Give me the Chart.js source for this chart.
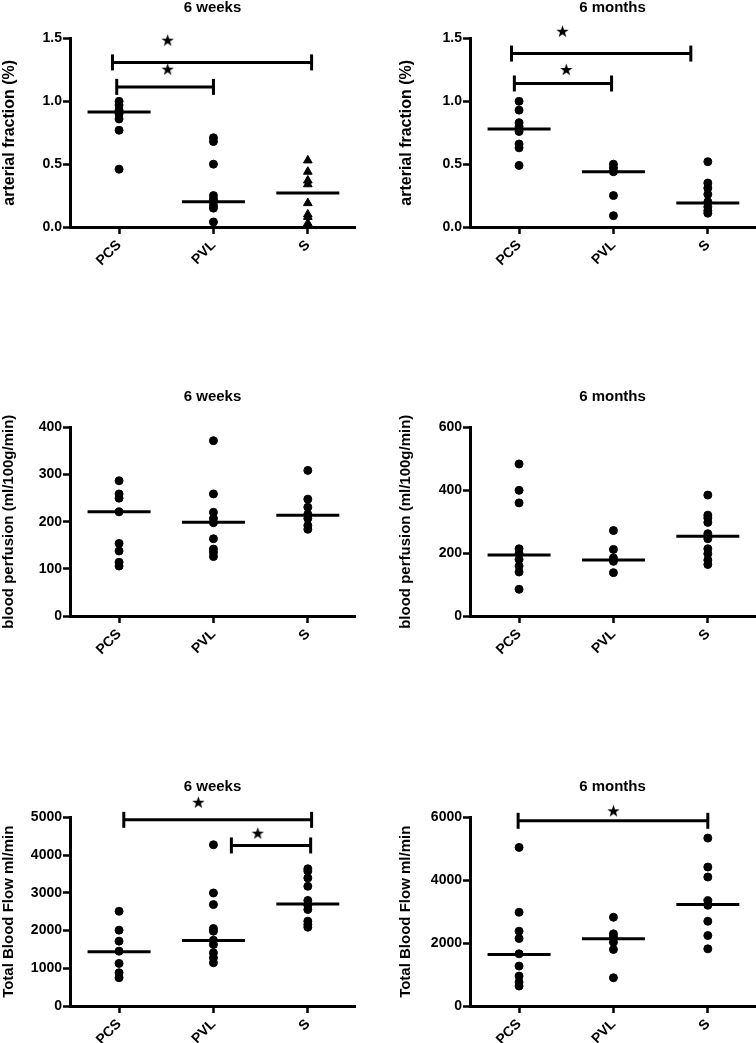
<!DOCTYPE html>
<html>
<head>
<meta charset="utf-8">
<script src="https://cdn.jsdelivr.net/npm/chart.js@4/dist/chart.umd.min.js"></script>
<style>
  html, body { margin: 0; padding: 0; background: #fff; overflow: hidden; }
  body { width: 756px; height: 1043px; position: relative; }
  canvas { position: absolute; }
</style>
</head>
<body>
<canvas id="art6w" width="378" height="281" style="left:0;top:-3px"></canvas>
<canvas id="art6m" width="378" height="281" style="left:378px;top:-3px"></canvas>
<canvas id="perf6w" width="378" height="281" style="left:0;top:386px"></canvas>
<canvas id="perf6m" width="378" height="281" style="left:378px;top:386px"></canvas>
<canvas id="tbf6w" width="378" height="281" style="left:0;top:776px"></canvas>
<canvas id="tbf6m" width="378" height="281" style="left:378px;top:776px"></canvas>
<script>
const groups = ['PCS', 'PVL', 'S'];

// arterial fraction (%)
const art6wPCS = [1.00, 0.97, 0.93, 0.90, 0.86, 0.77, 0.46];
const art6wPVL = [0.71, 0.68, 0.50, 0.25, 0.22, 0.20, 0.17, 0.15, 0.04];
const art6wS   = [0.53, 0.44, 0.37, 0.34, 0.19, 0.10, 0.08, 0.03, 0.01];
const art6wMedian = [0.915, 0.20, 0.27];
const art6mPCS = [1.00, 0.93, 0.83, 0.80, 0.76, 0.66, 0.63, 0.49];
const art6mPVL = [0.50, 0.47, 0.44, 0.25, 0.09];
const art6mS   = [0.52, 0.35, 0.31, 0.26, 0.20, 0.16, 0.13, 0.11];
const art6mMedian = [0.78, 0.44, 0.19];
const artTicks = [0, 0.5, 1.0, 1.5];

// blood perfusion (ml/100g/min)
const perf6wPCS = [287, 259, 250, 221, 154, 138, 114, 106];
const perf6wPVL = [372, 259, 220, 207, 198, 164, 142, 135, 126];
const perf6wS   = [309, 248, 231, 216, 207, 192, 184];
const perf6wMedian = [221, 199, 214];
const perf6mPCS = [484, 400, 360, 214, 199, 180, 159, 140, 85];
const perf6mPVL = [272, 212, 185, 174, 138];
const perf6mS   = [385, 321, 312, 298, 262, 246, 214, 198, 178, 164];
const perf6mMedian = [194, 178, 254];
const perf6wTicks = [0, 100, 200, 300, 400];
const perf6mTicks = [0, 200, 400, 600];

// total blood flow ml/min
const tbf6wPCS = [2513, 2011, 1720, 1455, 1129, 882, 750];
const tbf6wPVL = [4277, 2998, 2690, 2055, 1984, 1746, 1631, 1411, 1279, 1146];
const tbf6wS   = [3640, 3580, 3395, 3175, 2800, 2670, 2560, 2250, 2160, 2090];
const tbf6wMedian = [1437, 1737, 2707];
const tbf6mPCS = [5048, 2984, 2381, 2148, 1661, 1270, 952, 762, 635];
const tbf6mPVL = [2825, 2296, 2200, 2032, 1799, 899];
const tbf6mS   = [5344, 4423, 4106, 3354, 3206, 2698, 2243, 1820];
const tbf6mMedian = [1640, 2138, 3228];
const tbf6wTicks = [0, 1000, 2000, 3000, 4000, 5000];
const tbf6mTicks = [0, 2000, 4000, 6000];

// significance brackets [from, to, height] and stars [x, y]
const art6wBrackets = [[0.93, 3.04, 1.31], [0.975, 2.0, 1.115]];
const art6wStars = [[1.515, 1.487], [1.515, 1.256]];
const art6mBrackets = [[0.92, 2.82, 1.38], [0.95, 1.98, 1.142]];
const art6mStars = [[1.46, 1.558], [1.50, 1.253]];
const tbf6wBrackets = [[1.05, 3.04, 4938], [2.19, 3.03, 4259]];
const tbf6wStars = [[1.84, 5406], [2.47, 4585]];
const tbf6mBrackets = [[0.99, 3.0, 5894]];
const tbf6mStars = [[2.0, 6212]];

const FONT = '"Liberation Sans", Arial, sans-serif';
Chart.defaults.font.family = FONT;
Chart.defaults.color = '#000';

function starImage(size) {
    const c = document.createElement('canvas');
    c.width = c.height = size;
    const g = c.getContext('2d');
    g.fillStyle = '#000';
    g.beginPath();
    for (let i = 0; i < 10; i++) {
        const r = i % 2 ? size * 0.2 : size / 2;
        const a = -Math.PI / 2 + i * Math.PI / 5;
        g.lineTo(size / 2 + r * Math.cos(a), size / 2 + 0.5 + r * Math.sin(a));
    }
    g.closePath();
    g.fill();
    return c;
}
const star = starImage(13);

function makePanel(id, opts) {
    const leftCol = opts.side === 'left';
    const datasets = [];

    opts.series.forEach((vals, i) => {
        datasets.push({
            data: vals.map(v => ({ x: i + 1, y: v })),
            pointStyle: opts.triangles === i ? 'triangle' : 'circle',
            pointRadius: opts.triangles === i ? 5 : 4,
            pointBorderWidth: 1,
            backgroundColor: '#000',
            borderColor: '#000',
            clip: false
        });
    });

    datasets.push({
        data: opts.medians.map((m, i) => ({ x: i + 1, y: m })),
        pointStyle: 'line',
        pointRadius: 31.5,
        pointBorderWidth: 3,
        borderColor: '#000',
        clip: false
    });

    (opts.brackets || []).forEach(b => {
        datasets.push({
            data: [{ x: b[0], y: b[2] }, { x: b[1], y: b[2] }],
            showLine: true,
            borderWidth: 3,
            borderColor: '#000',
            pointStyle: 'line',
            rotation: 90,
            pointRadius: 8,
            pointBorderWidth: 3,
            pointBorderColor: '#000',
            clip: false
        });
    });

    if (opts.stars) {
        // big radius so stars above the plot area are still drawn; the image keeps its own size
        datasets.push({
            data: opts.stars.map(s => ({ x: s[0], y: s[1] })),
            pointStyle: star,
            pointRadius: 24,
            pointBorderWidth: 0,
            clip: false
        });
    }

    new Chart(document.getElementById(id), {
        type: 'scatter',
        data: { datasets },
        options: {
            responsive: false,
            animation: false,
            layout: { autoPadding: false, padding: { left: 0, right: leftCol ? 23 : 1, top: 0, bottom: 0 } },
            plugins: {
                legend: { display: false },
                tooltip: { enabled: false },
                title: {
                    display: true,
                    text: opts.title,
                    fullSize: false,
                    color: '#000',
                    font: { size: 15, weight: 'bold' },
                    padding: { top: 2, bottom: 21.5 }
                }
            },
            scales: {
                x: {
                    type: 'linear',
                    min: 0.48,
                    max: 3.5,
                    afterBuildTicks: s => { s.ticks = groups.map((g, i) => ({ value: i + 1 })); },
                    afterFit: s => { s.height = 51; s.paddingLeft = 0; s.paddingRight = 0; },
                    ticks: {
                        color: '#000',
                        font: { size: 14, weight: 'bold' },
                        minRotation: 45,
                        maxRotation: 45,
                        padding: 3,
                        callback: v => groups[Math.round(v) - 1]
                    },
                    grid: { drawOnChartArea: false, drawTicks: true, tickLength: 7, tickWidth: 2.5, tickColor: '#000' },
                    border: { display: true, color: '#000', width: 3 }
                },
                y: {
                    min: 0,
                    max: opts.ticks[opts.ticks.length - 1],
                    afterBuildTicks: s => { s.ticks = opts.ticks.map(v => ({ value: v })); },
                    afterFit: s => { s.width = leftCol ? 70 : 92; },
                    ticks: {
                        color: '#000',
                        font: { size: 14, weight: 'bold' },
                        padding: 1,
                        callback: v => opts.decimals ? v.toFixed(opts.decimals) : String(v)
                    },
                    title: {
                        display: true,
                        text: opts.yTitle,
                        color: '#000',
                        font: { size: opts.yTitleSize || 15, weight: 'bold' },
                        padding: { top: leftCol ? 0 : 19, bottom: 0 }
                    },
                    grid: { drawOnChartArea: false, drawTicks: true, tickLength: 7, tickWidth: 2.5, tickColor: '#000' },
                    border: { display: true, color: '#000', width: 3 }
                }
            }
        }
    });
}

makePanel('art6w', {
    side: 'left', title: '6 weeks', yTitle: 'arterial fraction (%)', yTitleSize: 16,
    series: [art6wPCS, art6wPVL, art6wS], medians: art6wMedian, triangles: 2,
    ticks: artTicks, decimals: 1, brackets: art6wBrackets, stars: art6wStars
});
makePanel('art6m', {
    side: 'right', title: '6 months', yTitle: 'arterial fraction (%)', yTitleSize: 16,
    series: [art6mPCS, art6mPVL, art6mS], medians: art6mMedian,
    ticks: artTicks, decimals: 1, brackets: art6mBrackets, stars: art6mStars
});
makePanel('perf6w', {
    side: 'left', title: '6 weeks', yTitle: 'blood perfusion (ml/100g/min)',
    series: [perf6wPCS, perf6wPVL, perf6wS], medians: perf6wMedian, ticks: perf6wTicks
});
makePanel('perf6m', {
    side: 'right', title: '6 months', yTitle: 'blood perfusion (ml/100g/min)',
    series: [perf6mPCS, perf6mPVL, perf6mS], medians: perf6mMedian, ticks: perf6mTicks
});
makePanel('tbf6w', {
    side: 'left', title: '6 weeks', yTitle: 'Total Blood Flow ml/min',
    series: [tbf6wPCS, tbf6wPVL, tbf6wS], medians: tbf6wMedian, ticks: tbf6wTicks,
    brackets: tbf6wBrackets, stars: tbf6wStars
});
makePanel('tbf6m', {
    side: 'right', title: '6 months', yTitle: 'Total Blood Flow ml/min',
    series: [tbf6mPCS, tbf6mPVL, tbf6mS], medians: tbf6mMedian, ticks: tbf6mTicks,
    brackets: tbf6mBrackets, stars: tbf6mStars
});
</script>
</body>
</html>
